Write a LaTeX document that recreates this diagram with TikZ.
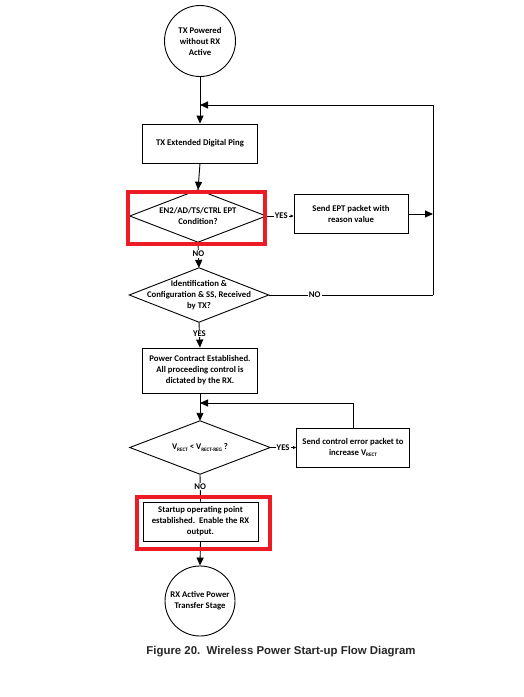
\documentclass[tikz,border=0pt]{standalone}
\usepackage{fontspec}
\setmainfont{Carlito}
\newfontfamily\capfont{Liberation Sans}
\usetikzlibrary{arrows.meta}
\newcommand\mysubsc[1]{\raisebox{-0.25ex}{\fontsize{5.2pt}{5.5pt}\selectfont #1}}
\tikzset{
  every node/.style={font=\fontsize{8.7pt}{11pt}\selectfont\bfseries, align=center, inner sep=0pt},
  box/.style={draw, line width=0.9pt, minimum width=115pt, minimum height=39pt},
  term/.style={draw, line width=0.9pt, circle, minimum size=71pt},
  dia/.style={minimum width=136pt, minimum height=52pt},
  lbl/.style={fill=white, inner sep=1pt},
  conn/.style={line width=0.9pt, -{Triangle[length=8pt,width=7pt]}},
  plain/.style={line width=0.9pt},
  smallarr/.style={line width=0.9pt, -{Triangle[length=3pt,width=3pt]}},
  redbox/.style={draw, line width=4.5pt, color={rgb,255:red,237;green,28;blue,36}}
}
\begin{document}
\begin{tikzpicture}[x=1pt,y=-1pt]
\useasboundingbox (0,0) rectangle (523,697);
\fill[white] (0,0) rectangle (523,697);

\node[term] (start) at (200,41) {TX Powered\\without RX\\Active};
\node[box] (ping) at (200,143.5) {TX Extended Digital Ping};
\node[dia] (d1) at (198,216) {EN2/AD/TS/CTRL EPT\\Condition?};
\draw[plain] (d1.north) -- (d1.east) -- (d1.south) -- (d1.west) -- cycle;
\node[box, minimum width=114pt] (ept) at (351,214) {Send EPT packet with\\reason value};
\node[dia, minimum width=139pt, minimum height=54pt] (d2) at (199,295) {Identification \&\\Configuration \& SS, Received\\by TX?};
\draw[plain] (d2.north) -- (d2.east) -- (d2.south) -- (d2.west) -- cycle;
\node[box, minimum height=45pt] (power) at (200,370.5) {Power Contract Established.\\All proceeding control is\\dictated by the RX.};
\node[dia, minimum width=140pt, minimum height=53pt] (d3) at (200,447.5) {V\mysubsc{RECT} < V\mysubsc{RECT-REG} ?};
\draw[plain] (d3.north) -- (d3.east) -- (d3.south) -- (d3.west) -- cycle;
\node[box, minimum width=113pt] (ctrl) at (353,447.5) {Send control error packet to\\increase V\mysubsc{RECT}};
\node[box] (startup) at (200.5,521.5) {Startup operating point\\established.\ \ Enable the RX\\output.};
\node[term, minimum size=70pt] (end) at (200,601) {RX Active Power\\Transfer Stage};

\coordinate (j1) at (200,105);
\coordinate (r1) at (433,105);
\coordinate (r2) at (433,214);
\coordinate (r3) at (433,295);
\coordinate (j2) at (200,403);
\coordinate (c1) at (353,403);

% main flow
\draw[plain] (start.south) -- (j1);
\draw[conn] (j1) -- (ping.north);
\draw[conn] (ping.south) -- (d1.north);
\draw[conn] (d1.south) -- node[lbl, pos=0.45] (no1) {NO} (d2.north);
\draw[conn] (d2.south) -- node[lbl, pos=0.45] (yes2) {YES} (power.north);
\draw[conn] (power.south) -- (d3.north);
\draw[plain] (d3.south) -- node[lbl, pos=0.45] (no3) {NO} (startup.north);
\draw[conn] (startup.south) -- (end.north);

% right branches
\draw[smallarr] (d1.east) -- node[lbl, pos=0.55] (yes1) {YES} (ept.west |- d1.east);
\draw[conn] (ept.east) -- (r2);
\draw[plain] (d2.east) -- node[lbl, pos=0.28] (no2) {NO} (r3);
\draw[plain] (r3) -- (r1);
\draw[conn] (r1) -- (j1);
\draw[smallarr] (d3.east) -- node[lbl, pos=0.5] (yes3) {YES} (ctrl.west);
\draw[plain] (ctrl.north) -- (c1);
\draw[conn] (c1) -- (j2);

% highlight boxes
\draw[redbox] (128,192) rectangle (265,244);
\draw[redbox] (137,497) rectangle (270,549);

\node[font=\capfont\fontsize{11.4pt}{13pt}\selectfont\bfseries, text=black!85] (cap) at (281,652) {Figure 20.\ \ Wireless Power Start-up Flow Diagram};
\end{tikzpicture}
\end{document}
